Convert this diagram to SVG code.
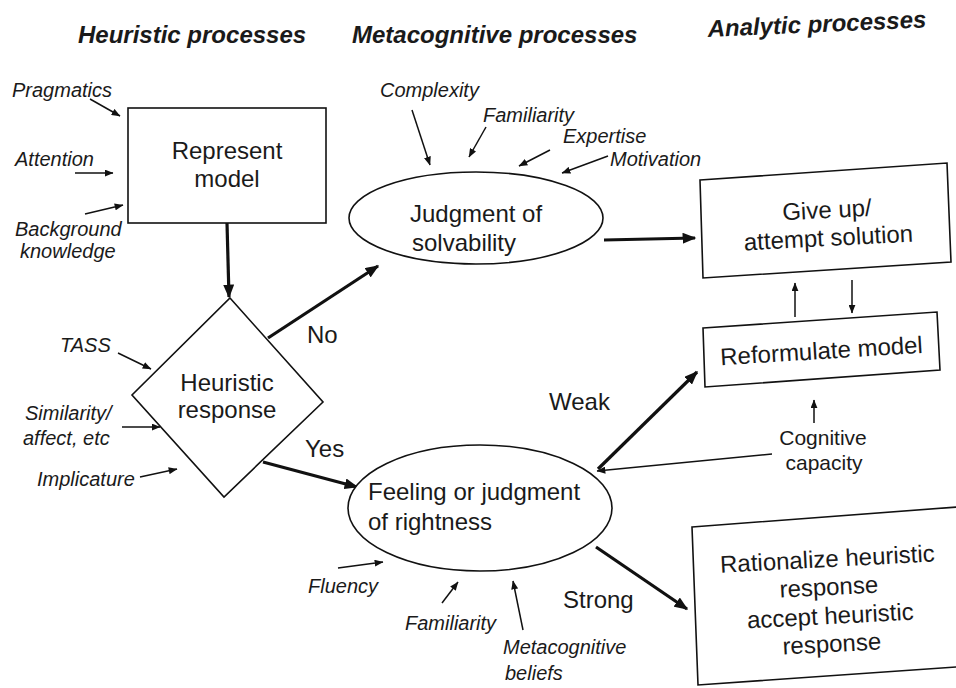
<svg xmlns="http://www.w3.org/2000/svg" width="956" height="688" viewBox="0 0 956 688">
  <defs>
    <marker id="ah-thin" viewBox="0 0 10 8" refX="9.5" refY="4" markerWidth="9" markerHeight="7" orient="auto" markerUnits="userSpaceOnUse">
      <path d="M0,0 L10,4 L0,8 z" fill="#111"/>
    </marker>
    <marker id="ah-thick" viewBox="0 0 10 8" refX="9" refY="4" markerWidth="14" markerHeight="11" orient="auto" markerUnits="userSpaceOnUse">
      <path d="M0,0 L10,4 L0,8 z" fill="#111"/>
    </marker>
  </defs>
  <style>
    text { font-family: "Liberation Sans", Arial, sans-serif; fill: #1a1a1a; }
    .hdr { font-size: 24px; font-weight: bold; font-style: italic; }
    .node { font-size: 24px; }
    .lbl { font-size: 20px; font-style: italic; }
    .edge-lbl { font-size: 24px; }
    .cap { font-size: 21px; }
    .shape { fill: #fff; stroke: #111; stroke-width: 1.6; }
    .thin { stroke: #111; stroke-width: 1.5; fill: none; marker-end: url(#ah-thin); }
    .thick { stroke: #111; stroke-width: 3.2; fill: none; marker-end: url(#ah-thick); }
    .plain { stroke: #111; stroke-width: 1.5; fill: none; }
  </style>

  <rect width="956" height="688" fill="#fff"/>

  <!-- column headings -->
  <g id="headings">
    <text class="hdr" x="78" y="43">Heuristic processes</text>
    <text class="hdr" x="352" y="43">Metacognitive processes</text>
    <text class="hdr" x="708" y="37" transform="rotate(-2.5 708 37)">Analytic processes</text>
  </g>

  <!-- connectors -->
  <g id="connectors">
    <!-- main flow -->
    <line class="thick" x1="227" y1="223" x2="229" y2="297"/>
    <line class="thick" x1="268" y1="338" x2="378" y2="266"/>
    <line class="thick" x1="263" y1="462" x2="357" y2="487"/>
    <line class="thick" x1="604" y1="240" x2="695" y2="238"/>
    <line class="thick" x1="598" y1="469" x2="697" y2="372"/>
    <line class="thick" x1="596" y1="547" x2="687" y2="609"/>
    <line class="thin" x1="795" y1="317" x2="795" y2="283"/>
    <line class="thin" x1="852" y1="280" x2="852" y2="313"/>
    <line class="thin" x1="814" y1="423" x2="814" y2="400"/>
    <line class="thin" x1="772" y1="454" x2="597" y2="471"/>

    <!-- influences on representation -->
    <line class="thin" x1="90" y1="99" x2="120" y2="116"/>
    <line class="thin" x1="75" y1="173" x2="113" y2="173"/>
    <line class="thin" x1="85" y1="214" x2="123" y2="205"/>

    <!-- influences on heuristic response -->
    <line class="thin" x1="118" y1="353" x2="151" y2="369"/>
    <line class="thin" x1="122" y1="427" x2="160" y2="427"/>
    <line class="thin" x1="140" y1="477" x2="177" y2="469"/>

    <!-- influences on solvability judgment -->
    <line class="thin" x1="412" y1="110" x2="430" y2="165"/>
    <line class="thin" x1="486" y1="127" x2="469" y2="157"/>
    <line class="thin" x1="550" y1="150" x2="519" y2="166"/>
    <line class="thin" x1="608" y1="156" x2="562" y2="173"/>

    <!-- influences on feeling of rightness -->
    <line class="thin" x1="338" y1="568" x2="383" y2="562"/>
    <line class="thin" x1="442" y1="603" x2="458" y2="582"/>
    <line class="thin" x1="523" y1="630" x2="513" y2="581"/>

    <!-- branch labels -->
    <text class="edge-lbl" x="307" y="343">No</text>
    <text class="edge-lbl" x="305" y="457">Yes</text>
    <text class="edge-lbl" x="549" y="410">Weak</text>
    <text class="edge-lbl" x="563" y="608">Strong</text>
  </g>

  <!-- nodes -->
  <g id="represent-model">
    <rect class="shape" x="128" y="108" width="198" height="115"/>
    <text class="node" x="227" y="159" text-anchor="middle">Represent</text>
    <text class="node" x="227" y="187" text-anchor="middle">model</text>
  </g>

  <g id="heuristic-response">
    <polygon class="shape" points="230,298 323,402 224,497 132,395"/>
    <text class="node" x="227" y="391" text-anchor="middle">Heuristic</text>
    <text class="node" x="227" y="418" text-anchor="middle">response</text>
  </g>

  <g id="judgment-solvability">
    <ellipse class="shape" cx="476" cy="218" rx="127" ry="46"/>
    <text class="node" x="410" y="222">Judgment of</text>
    <text class="node" x="412" y="251">solvability</text>
  </g>

  <g id="feeling-rightness">
    <ellipse class="shape" cx="480" cy="508" rx="132" ry="63"/>
    <text class="node" x="368" y="500">Feeling or judgment</text>
    <text class="node" x="368" y="530">of rightness</text>
  </g>

  <g id="give-up">
    <polygon class="shape" points="700,180 947,163 951,262 703,278"/>
    <g transform="rotate(-3 828 230)">
      <text class="node" x="828" y="218" text-anchor="middle">Give up/</text>
      <text class="node" x="828" y="246" text-anchor="middle">attempt solution</text>
    </g>
  </g>

  <g id="reformulate-model">
    <polygon class="shape" points="703,328 937,312 940,370 705,387"/>
    <text class="node" x="822" y="359" text-anchor="middle" transform="rotate(-3.5 822 359)">Reformulate model</text>
  </g>

  <g id="rationalize">
    <polygon class="shape" points="692,527 957,507 957,667 698,685"/>
    <g transform="rotate(-3 830 610)">
      <text class="node" x="830" y="567" text-anchor="middle">Rationalize heuristic</text>
      <text class="node" x="830" y="595" text-anchor="middle">response</text>
      <text class="node" x="830" y="624" text-anchor="middle">accept heuristic</text>
      <text class="node" x="830" y="652" text-anchor="middle">response</text>
    </g>
  </g>

  <g id="cognitive-capacity">
    <text class="cap" x="823" y="445" text-anchor="middle">Cognitive</text>
    <text class="cap" x="824" y="470" text-anchor="middle">capacity</text>
  </g>

  <!-- factor labels -->
  <g id="factor-pragmatics"><text class="lbl" x="12" y="97">Pragmatics</text></g>
  <g id="factor-attention"><text class="lbl" x="15" y="166">Attention</text></g>
  <g id="factor-background">
    <text class="lbl" x="15" y="236">Background</text>
    <text class="lbl" x="20" y="258">knowledge</text>
  </g>
  <g id="factor-tass"><text class="lbl" x="60" y="352">TASS</text></g>
  <g id="factor-similarity">
    <text class="lbl" x="25" y="420">Similarity/</text>
    <text class="lbl" x="23" y="445">affect, etc</text>
  </g>
  <g id="factor-implicature"><text class="lbl" x="37" y="486">Implicature</text></g>
  <g id="factor-complexity"><text class="lbl" x="380" y="97">Complexity</text></g>
  <g id="factor-familiarity-1"><text class="lbl" x="483" y="122">Familiarity</text></g>
  <g id="factor-expertise"><text class="lbl" x="563" y="143">Expertise</text></g>
  <g id="factor-motivation"><text class="lbl" x="610" y="166">Motivation</text></g>
  <g id="factor-fluency"><text class="lbl" x="308" y="593">Fluency</text></g>
  <g id="factor-familiarity-2"><text class="lbl" x="405" y="630">Familiarity</text></g>
  <g id="factor-beliefs">
    <text class="lbl" x="503" y="654">Metacognitive</text>
    <text class="lbl" x="505" y="680">beliefs</text>
  </g>
</svg>
